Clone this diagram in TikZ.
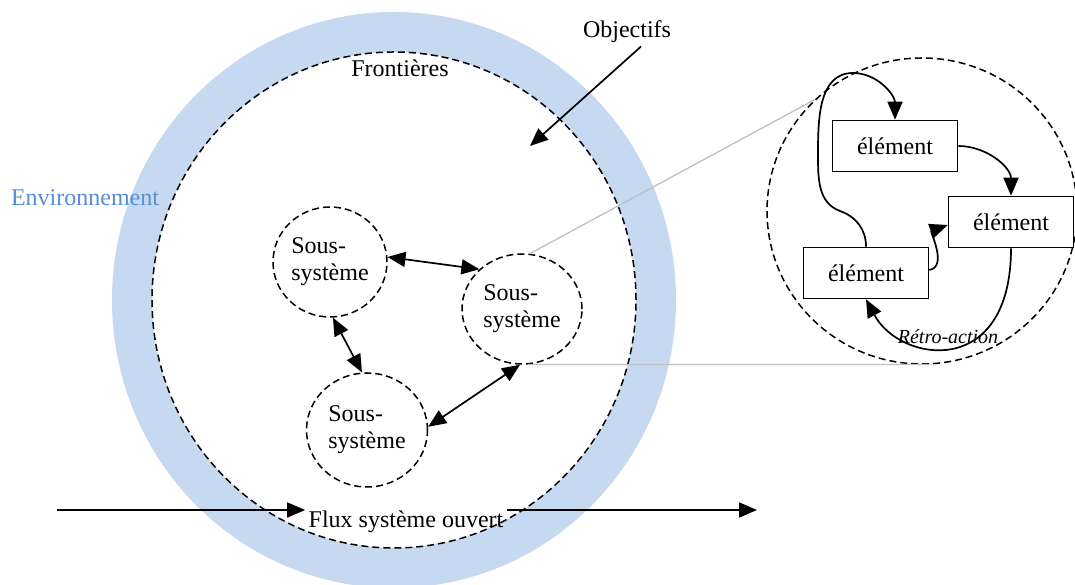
\documentclass[tikz,border=0pt]{standalone}
\usepackage{fontspec}
\setmainfont{Liberation Serif}
\usepackage{xcolor}
\usepackage{tikz}
\usetikzlibrary{positioning,shapes.geometric,arrows.meta}

\definecolor{anneau}{RGB}{198,217,240}
\definecolor{bleuenv}{RGB}{85,142,213}
\definecolor{gris}{RGB}{191,191,191}

\tikzset{
  fleche/.style={black, line width=1.7pt, -{Triangle[length=18pt,width=15pt]}},
  dfleche/.style={black, line width=1.7pt, {Triangle[length=18pt,width=15pt]}-{Triangle[length=18pt,width=15pt]}},
  pointille/.style={black, line width=1.5pt, dash pattern=on 7pt off 4pt},
  sousys/.style={ellipse, draw, pointille, align=left, inner sep=0pt},
  elem/.style={draw, line width=1.6pt, minimum width=125pt, minimum height=51pt},
  loupe/.style={gris, line width=1.3pt}
}

\begin{document}
\begin{tikzpicture}[x=1pt, y=1pt, font=\fontsize{24}{27}\selectfont]
\useasboundingbox (0,0) rectangle (1075,585);

% environnement et frontieres
\draw[anneau, line width=40pt] (394,285) ellipse [x radius=262, y radius=268];
\draw[pointille] (394,285) ellipse [x radius=242, y radius=248];
\node[text=bleuenv] (env) at (85,387) {Environnement};
\node (front) at (400,517) {Frontières};
\node (obj) at (627,553) {Objectifs};
\coordinate (objtip) at (530,439);
\draw[fleche] ([xshift=14pt]obj.south) -- (objtip);

% sous-systemes
\node[sousys, minimum width=114pt, minimum height=110pt] (ss1) at (330,323) {Sous-\\système};
\node[sousys, minimum width=120pt, minimum height=110pt] (ss2) at (522,276) {Sous-\\système};
\node[sousys, minimum width=121pt, minimum height=114pt] (ss3) at (367,155) {Sous-\\système};
\draw[dfleche] (ss1.5) -- (ss2.137);
\draw[dfleche] (ss1.273) -- (ss3.95);
\draw[dfleche] (ss3.3) -- (ss2.268);

% loupe
\node[ellipse, draw, pointille, minimum width=310pt, minimum height=306pt] (zoom) at (922,374) {};
\draw[loupe] (ss2.82) -- (zoom.134);
\draw[loupe] (ss2.276) -- (zoom.273);

% elements
\node[elem] (el1) at (895,439) {élément};
\node[elem] (el2) at (1011,363) {élément};
\node[elem] (el3) at (866,312) {élément};
\draw[fleche] (el1.east) to[out=0, in=90] (el2.north);
\draw[fleche] ([yshift=3pt]el3.east) to[out=10, in=200] ([yshift=-3pt]el2.west);
\draw[fleche] (el2.south) .. controls (1011,205) and (900,222) .. (el3.south);
\draw[fleche] (el3.north) to[out=90, in=-20] (840,374)
  to[out=160, in=-90] (818,430) to[out=90, in=180] (853,512)
  to[out=0, in=90] (el1.north);
\node[font=\fontsize{20}{24}\selectfont\itshape] (retro) at (948,248) {Rétro-action};

% flux
\node (flux) at (406,63) {Flux système ouvert};
\coordinate (entree) at (57,75);
\coordinate (sortie) at (757,75);
\draw[fleche] (entree) -- (entree -| flux.west);
\draw[fleche] (flux.east |- entree) -- (sortie);
\end{tikzpicture}
\end{document}
